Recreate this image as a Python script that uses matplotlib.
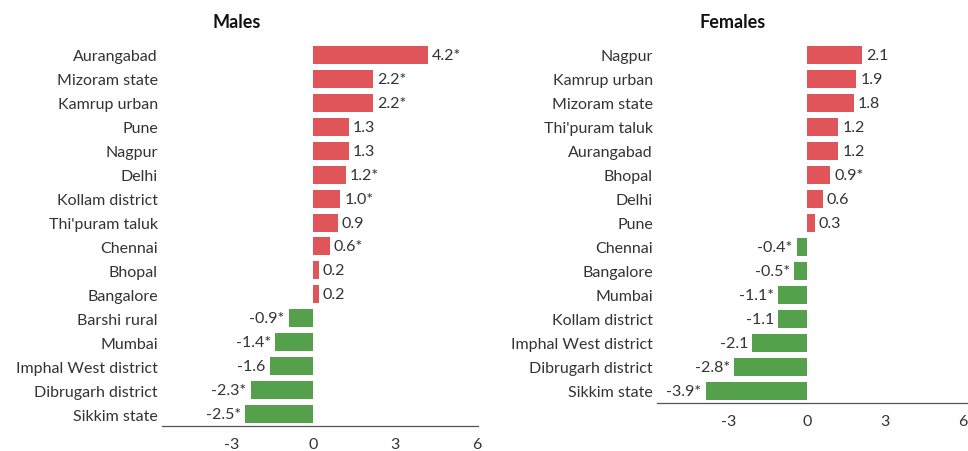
import matplotlib
matplotlib.use("Agg")
import matplotlib.pyplot as plt

male_places = ["Aurangabad", "Mizoram state", "Kamrup urban", "Pune", "Nagpur", "Delhi",
               "Kollam district", "Thi'puram taluk", "Chennai", "Bhopal", "Bangalore",
               "Barshi rural", "Mumbai", "Imphal West district", "Dibrugarh district", "Sikkim state"]
male_values = [4.2, 2.2, 2.2, 1.3, 1.3, 1.2, 1.0, 0.9, 0.6, 0.2, 0.2, -0.9, -1.4, -1.6, -2.3, -2.5]
male_sig = [True, True, True, False, False, True, True, False, True, False, False,
            True, True, False, True, True]

female_places = ["Nagpur", "Kamrup urban", "Mizoram state", "Thi'puram taluk", "Aurangabad",
                 "Bhopal", "Delhi", "Pune", "Chennai", "Bangalore", "Mumbai", "Kollam district",
                 "Imphal West district", "Dibrugarh district", "Sikkim state"]
female_values = [2.1, 1.9, 1.8, 1.2, 1.2, 0.9, 0.6, 0.3, -0.4, -0.5, -1.1, -1.1, -2.1, -2.8, -3.9]
female_sig = [False, False, False, False, False, True, False, False, True, True, True,
              False, False, True, True]

xticks = [-3, 0, 3, 6]

RED = "#E0555A"
GREEN = "#55A04B"
TXT = "#333333"
FONT = "Lato"
FS = 11.5

plt.rcParams['font.family'] = [FONT, 'DejaVu Sans']

fig = plt.figure(figsize=(9.68, 4.52), dpi=100)

def panel(rect, places, values, sig, xlim):
    ax = fig.add_axes(rect)
    n = len(places)
    ys = list(range(n))
    colors = [RED if v >= 0 else GREEN for v in values]
    ax.barh(ys, values, height=0.75, color=colors)
    for y, v, s in zip(ys, values, sig):
        lab = f"{v:.1f}" + ("*" if s else "")
        if v >= 0:
            ax.annotate(lab, (v, y), xytext=(3, 0), textcoords="offset points",
                        ha="left", va="center", fontsize=FS, color=TXT)
        else:
            ax.annotate(lab, (v, y), xytext=(-3, 0), textcoords="offset points",
                        ha="right", va="center", fontsize=FS, color=TXT)
    ax.set_ylim(n - 0.5, -0.5)
    ax.set_xlim(*xlim)
    ax.set_yticks(ys)
    ax.set_yticklabels(places, fontsize=FS, color=TXT)
    ax.set_xticks(xticks)
    ax.set_xticklabels([str(t) for t in xticks], fontsize=FS, color=TXT)
    ax.tick_params(axis="both", length=0)
    ax.tick_params(axis="x", pad=8)
    ax.tick_params(axis="y", pad=3)
    for s in ["top", "right", "left"]:
        ax.spines[s].set_visible(False)
    ax.spines["bottom"].set_color("#555555")
    ax.spines["bottom"].set_linewidth(0.9)
    ax.patch.set_alpha(0)
    return ax

ax1 = panel([162 / 968, 1 - 427 / 452, 316 / 968, 383 / 452],
            male_places, male_values, male_sig, (-5.55, 6.05))
ax2 = panel([657 / 968, 1 - 404 / 452, 318 / 968, 360 / 452],
            female_places, female_values, female_sig, (-5.77, 6.46))

fig.text(237 / 968, 1 - 22 / 452, "Males", ha="center", va="center",
         fontsize=13, fontweight="bold", color="#111111")
fig.text(733 / 968, 1 - 22 / 452, "Females", ha="center", va="center",
         fontsize=13, fontweight="bold", color="#111111")

fig.savefig("out.png", dpi=100, facecolor="white")
